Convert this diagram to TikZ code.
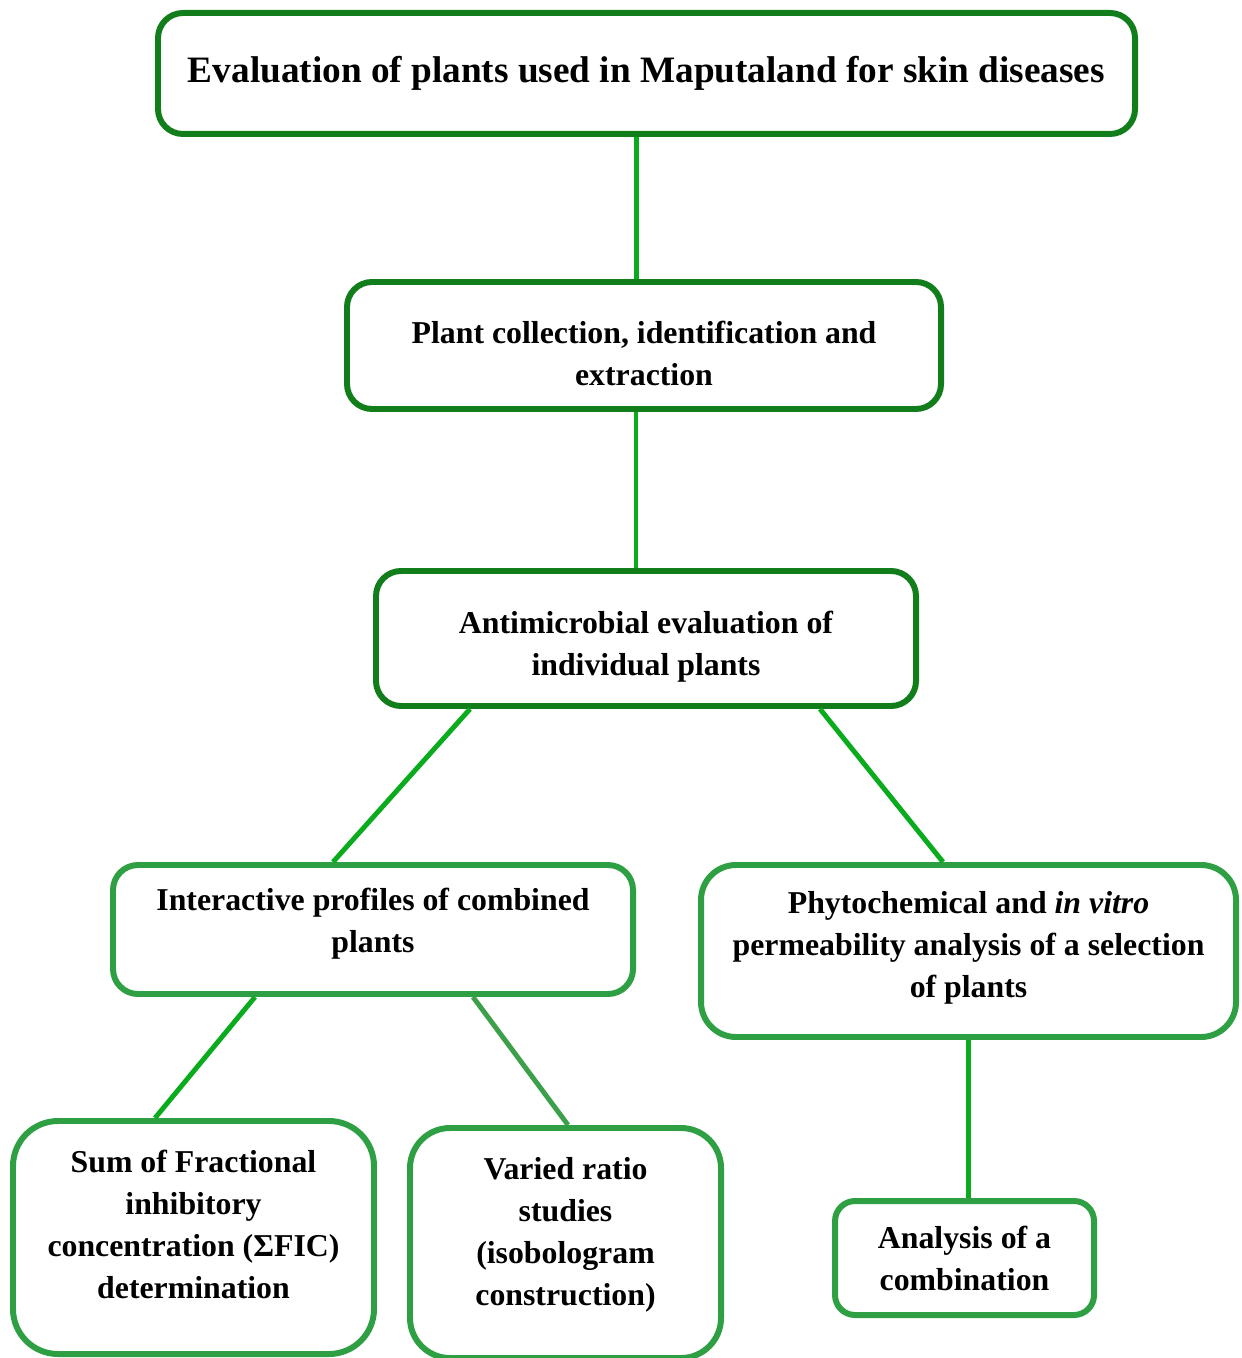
\documentclass[tikz,border=0pt]{standalone}
\usepackage{fontspec}
\setmainfont{Liberation Serif}
\definecolor{boxdark}{RGB}{17,125,27}
\definecolor{boxlight}{RGB}{46,160,67}
\definecolor{linkgreen}{RGB}{10,172,30}
\definecolor{linkgray}{RGB}{60,160,74}
\begin{document}
\begin{tikzpicture}
    \tikzstyle{every node}=[draw,rectangle,fill=white,line width=1.7pt,align=center,font=\fontsize{9.05}{11.95}\selectfont\bfseries];
    \tikzstyle{topbox}=[draw=boxdark,rounded corners=2.5mm];
    \tikzstyle{subbox}=[draw=boxlight];
    \tikzstyle{link}=[draw=linkgreen,line width=1.4pt];
    \useasboundingbox (0,0) rectangle (12.41,-13.58);

    \node at (6.465,-0.735) (eval) [topbox,minimum width=9.77cm,minimum height=1.21cm,font=\fontsize{10.6}{12.5}\selectfont\bfseries] {Evaluation of plants used in Maputaland for skin diseases};
    \node at (6.44,-3.455)  (plant) [topbox,minimum width=5.94cm,minimum height=1.27cm] {\rule{0pt}{3.8mm}Plant collection, identification and\\extraction};
    \node at (6.46,-6.385)  (antimic) [topbox,minimum width=5.40cm,minimum height=1.35cm] {\rule{0pt}{3.8mm}Antimicrobial evaluation of\\individual plants};
    \node at (3.73,-9.295)  (inter) [subbox,rounded corners=2.5mm,minimum width=5.20cm,minimum height=1.29cm] {Interactive profiles of combined\\plants\rule[-1.9mm]{0pt}{1.9mm}};
    \node at (9.685,-9.51)  (phyto) [subbox,rounded corners=3.5mm,minimum width=5.35cm,minimum height=1.72cm] {Phytochemical and \textit{in vitro}\\permeability analysis of a selection\\of plants\rule[-1.3mm]{0pt}{1.3mm}};
    \node at (1.935,-12.375) (sumfic) [subbox,rounded corners=4.5mm,minimum width=3.61cm,minimum height=2.33cm] {Sum of Fractional\\inhibitory\\concentration (ΣFIC)\\determination\rule[-2.7mm]{0pt}{2.7mm}};
    \node at (5.655,-12.43) (varied) [subbox,rounded corners=4mm,minimum width=3.11cm,minimum height=2.30cm] {Varied ratio\\studies\\(isobologram\\construction)\rule[-2.4mm]{0pt}{2.4mm}};
    \node at (9.645,-12.58) (combo) [subbox,rounded corners=2mm,minimum width=2.59cm,minimum height=1.14cm] {Analysis of a\\combination};

    \draw[link] ([xshift=-1mm]eval.south) to ([xshift=-1mm]eval.south |- plant.north);
    \draw[link] ([xshift=-0.8mm]plant.south) to ([xshift=-0.8mm]plant.south |- antimic.north);
    \draw[link] ([xshift=-1.76cm]antimic.south) to ([xshift=-0.40cm]inter.north);
    \draw[link] ([xshift=1.74cm]antimic.south) to ([xshift=-0.255cm]phyto.north);
    \draw[link] ([xshift=-1.18cm]inter.south) to ([xshift=-0.385cm]sumfic.north);
    \draw[link,draw=linkgray] ([xshift=1.0cm]inter.south) to ([xshift=0.025cm]varied.north);
    \draw[link] (phyto.south) to (phyto.south |- combo.north);
\end{tikzpicture}
\end{document}
